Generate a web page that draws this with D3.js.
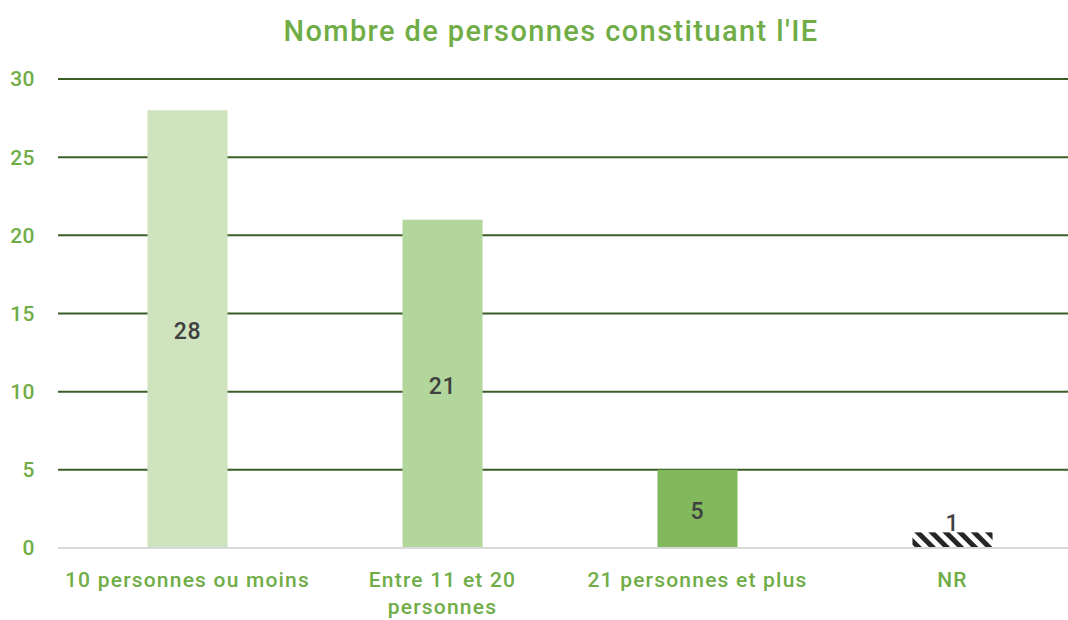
<!DOCTYPE html>
<html>
<head>
<meta charset="utf-8">
<script src="https://cdn.jsdelivr.net/npm/d3@7"></script>
<style>
  body { margin: 0; background: #fff; }
  svg { display: block; font-family: Roboto, "DejaVu Sans", sans-serif; }
</style>
</head>
<body>
<svg id="chart" width="1068" height="620"></svg>
<script>
// Nombre de personnes constituant l'IE -- bar chart

var categories = ["10 personnes ou moins", "Entre 11 et 20 personnes", "21 personnes et plus", "NR"];
var values = [28, 21, 5, 1];
var yTicks = [0, 5, 10, 15, 20, 25, 30];
var title = "Nombre de personnes constituant l'IE";

var fills = ["#cfe3bf", "#b3d69c", "#83b95d", "url(#hatch)"];
var green = "#70ad47";

var svg = d3.select("#chart");
var left = 58, right = 1068;

var x = d3.scaleBand()
  .domain(categories)
  .range([60, 1080])
  .paddingInner(0.686)
  .paddingOuter(0.343);

var y = d3.scaleLinear()
  .domain([0, 30])
  .range([548, 79]);

// hatch pattern for the NR bar
var defs = svg.append("defs");
var pat = defs.append("pattern")
  .attr("id", "hatch")
  .attr("patternUnits", "userSpaceOnUse")
  .attr("width", 10)
  .attr("height", 10)
  .attr("patternTransform", "rotate(-45)");
pat.append("rect").attr("width", 10).attr("height", 10).attr("fill", "#fff");
pat.append("rect").attr("width", 5).attr("height", 10).attr("fill", "#262626");

// title
svg.append("text")
  .attr("x", 551)
  .attr("y", 41)
  .attr("text-anchor", "middle")
  .attr("fill", green)
  .style("font-size", "29px")
  .style("font-weight", "500")
  .style("letter-spacing", "1.4px")
  .text(title);

// gridlines
svg.append("g").selectAll("line")
  .data(yTicks.filter(function (d) { return d > 0; }))
  .join("line")
  .attr("x1", left).attr("x2", right)
  .attr("y1", function (d) { return y(d); })
  .attr("y2", function (d) { return y(d); })
  .attr("stroke", "#3b5e27")
  .attr("stroke-width", 2);

// y tick labels
svg.append("g").selectAll("text")
  .data(yTicks)
  .join("text")
  .attr("x", 35)
  .attr("y", function (d) { return y(d); })
  .attr("dy", "0.35em")
  .attr("text-anchor", "end")
  .attr("fill", green)
  .style("font-size", "21px")
  .style("font-weight", "500")
  .style("letter-spacing", "0.5px")
  .text(function (d) { return d; });

// bars
svg.append("g").selectAll("rect")
  .data(values)
  .join("rect")
  .attr("x", function (d, i) { return x(categories[i]); })
  .attr("width", x.bandwidth())
  .attr("y", function (d) { return y(d); })
  .attr("height", function (d) { return y(0) - y(d); })
  .attr("fill", function (d, i) { return fills[i]; });

// baseline
svg.append("line")
  .attr("x1", left).attr("x2", right)
  .attr("y1", y(0)).attr("y2", y(0))
  .attr("stroke", "#d9d9d9")
  .attr("stroke-width", 2);

// value labels
svg.append("g").selectAll("text")
  .data(values)
  .join("text")
  .attr("x", function (d, i) { return x(categories[i]) + x.bandwidth() / 2; })
  .attr("y", function (d) { return d < 2 ? y(d) - 9 : (y(d) + y(0)) / 2 + 2; })
  .attr("dy", "0.35em")
  .attr("text-anchor", "middle")
  .attr("fill", "#404040")
  .style("font-size", "23px")
  .style("font-weight", "500")
  .style("letter-spacing", "0.8px")
  .text(function (d) { return d; });

// category labels (wrapped like Excel)
var wrapped = {
  "Entre 11 et 20 personnes": ["Entre 11 et 20", "personnes"]
};
var cat = svg.append("g").selectAll("text")
  .data(categories)
  .join("text")
  .attr("x", function (d) { return x(d) + x.bandwidth() / 2; })
  .attr("y", 587)
  .attr("text-anchor", "middle")
  .attr("fill", green)
  .style("font-size", "21px")
  .style("font-weight", "500")
  .style("letter-spacing", "1.2px");
cat.each(function (d) {
  var lines = wrapped[d] || [d];
  var t = d3.select(this);
  lines.forEach(function (l, k) {
    t.append("tspan")
      .attr("x", t.attr("x"))
      .attr("dy", k === 0 ? 0 : 27)
      .text(l);
  });
});
</script>
</body>
</html>
